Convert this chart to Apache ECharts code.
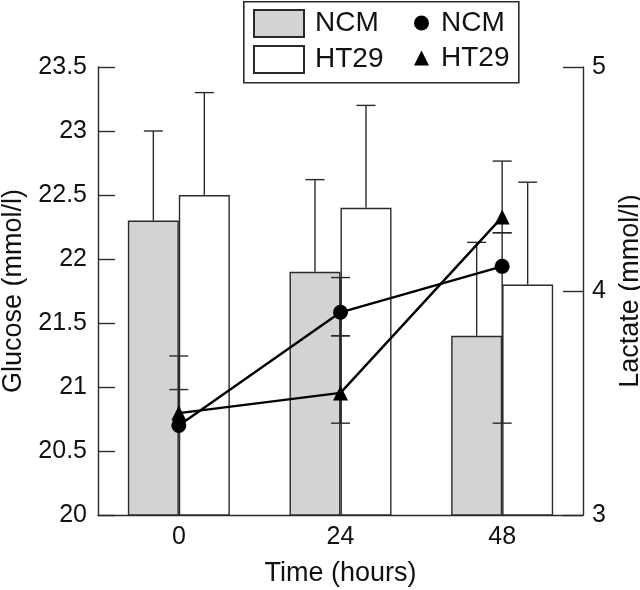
<!DOCTYPE html>
<html>
<head>
<meta charset="utf-8">
<script src="https://cdn.jsdelivr.net/npm/echarts@6/dist/echarts.min.js"></script>
<style>
html,body{margin:0;padding:0;background:#fff;}
#chart{width:640px;height:590px;}
</style>
</head>
<body>
<div id="chart"></div>
<script>
// ---- data ----
const categories = ['0', '24', '48'];
const glucoseNCM = [22.3, 21.9, 21.4];
const glucoseNCMErr = [23.0, 22.62, 22.13];     // top of error bar
const glucoseHT29 = [22.5, 22.4, 21.8];
const glucoseHT29Err = [23.3, 23.2, 22.6];
const lactateNCM = [3.40, 3.905, 4.11];
const lactateNCMHi = [3.56, 4.06, 4.26];
const lactateNCMLo = [null, 3.80, 3.41];
const lactateHT29 = [3.455, 3.545, 4.33];
const lactateHT29Hi = [3.71, 3.80, 4.58];
const lactateHT29Lo = [null, 3.41, 4.26];
const glucoseTicks = {min: 20, max: 23.5, interval: 0.5};
const lactateTicks = {min: 3, max: 5, interval: 1};

const FONT = 'Liberation Sans';
const INK = '#111';
const LINE = '#2a2a2a';
const BAR_W = 51;

const chart = echarts.init(document.getElementById('chart'), null, {renderer: 'canvas'});

function barErrData(vals, tops, side) {
  return vals.map((v, i) => [i, v, tops[i], side]);
}
function lacErrData(vals, hi, lo) {
  return vals.map((v, i) => [i, v, lo[i] == null ? v : lo[i], hi[i] == null ? v : hi[i], lo[i] == null ? 0 : 1, hi[i] == null ? 0 : 1]);
}

function renderBarErr(params, api) {
  const c = api.value(0);
  const base = api.coord([c, api.value(1)]);
  const top = api.coord([c, api.value(2)]);
  const x = base[0] + api.value(3) * BAR_W / 2;
  const half = 9.5;
  return {
    type: 'group',
    children: [
      {type: 'line', shape: {x1: x, y1: base[1], x2: x, y2: top[1]}, style: {stroke: LINE, lineWidth: 1.4}},
      {type: 'line', shape: {x1: x - half, y1: top[1], x2: x + half, y2: top[1]}, style: {stroke: LINE, lineWidth: 1.4}}
    ]
  };
}
function renderLacErr(params, api) {
  const c = api.value(0);
  const lo = api.coord([c, api.value(2)]);
  const hi = api.coord([c, api.value(3)]);
  const x = lo[0];
  const half = 9.5;
  const ch = [{type: 'line', shape: {x1: x, y1: lo[1], x2: x, y2: hi[1]}, style: {stroke: LINE, lineWidth: 1.4}}];
  if (api.value(4)) ch.push({type: 'line', shape: {x1: x - half, y1: lo[1], x2: x + half, y2: lo[1]}, style: {stroke: LINE, lineWidth: 1.4}});
  if (api.value(5)) ch.push({type: 'line', shape: {x1: x - half, y1: hi[1], x2: x + half, y2: hi[1]}, style: {stroke: LINE, lineWidth: 1.4}});
  return {type: 'group', children: ch};
}

const option = {
  animation: false,
  backgroundColor: '#fff',
  textStyle: {fontFamily: FONT, color: INK},
  grid: {left: 98, right: 57, top: 67, bottom: 75, containLabel: false, outerBoundsMode: 'none'},
  graphic: [{
    type: 'rect', left: 243, top: 1, z: 10,
    shape: {width: 275, height: 81},
    style: {fill: 'rgba(0,0,0,0)', stroke: LINE, lineWidth: 1.6}
  }],
  legend: [{
    left: 253, top: 9, orient: 'vertical', padding: 0,
    itemWidth: 50, itemHeight: 27, itemGap: 7,
    selectedMode: false,
    textStyle: {fontFamily: FONT, fontSize: 28, color: INK, lineHeight: 27, padding: [0, 0, 0, 6]},
    data: [{name: 'NCM', icon: 'rect'}, {name: 'HT29', icon: 'rect'}]
  }, {
    left: 414, top: 9, orient: 'vertical', padding: 0,
    itemWidth: 15, itemHeight: 15, itemGap: 7,
    selectedMode: false,
    formatter: n => n.trim(),
    textStyle: {fontFamily: FONT, fontSize: 28, color: INK, lineHeight: 27, padding: [0, 0, 0, 7]},
    data: [{name: 'NCM ', icon: 'circle'}, {name: 'HT29 ', icon: 'triangle'}]
  }],
  xAxis: {
    type: 'category', data: categories,
    boundaryGap: true,
    name: 'Time (hours)', nameLocation: 'middle', nameGap: 45,
    nameTextStyle: {fontFamily: FONT, fontSize: 27, color: INK},
    axisLine: {lineStyle: {color: LINE, width: 1.4}},
    axisTick: {inside: true, length: 21, lineStyle: {color: LINE, width: 1.4}},
    axisLabel: {fontFamily: FONT, fontSize: 25, color: INK, margin: 10},
    splitLine: {show: false}
  },
  yAxis: [{
    type: 'value', min: glucoseTicks.min, max: glucoseTicks.max, interval: glucoseTicks.interval,
    name: 'Glucose (mmol/l)', nameLocation: 'middle', nameGap: 56, nameRotate: 90,
    nameTextStyle: {fontFamily: FONT, fontSize: 27, color: INK},
    axisLine: {show: true, lineStyle: {color: LINE, width: 1.4}},
    axisTick: {show: true, inside: true, length: 17, lineStyle: {color: LINE, width: 1.4}},
    axisLabel: {fontFamily: FONT, fontSize: 25, color: INK, margin: 11},
    splitLine: {show: false}
  }, {
    type: 'value', position: 'right', min: lactateTicks.min, max: lactateTicks.max, interval: lactateTicks.interval,
    name: 'Lactate (mmol/l)', nameLocation: 'middle', nameGap: 24, nameRotate: 90,
    nameTextStyle: {fontFamily: FONT, fontSize: 27, color: INK},
    axisLine: {show: true, lineStyle: {color: LINE, width: 1.4}},
    axisTick: {show: true, inside: true, length: 20, lineStyle: {color: LINE, width: 1.4}},
    axisLabel: {fontFamily: FONT, fontSize: 25, color: INK, margin: 9},
    splitLine: {show: false}
  }],
  series: [{
    name: 'NCM', type: 'bar', data: glucoseNCM, barWidth: BAR_W, barGap: '0%',
    itemStyle: {color: '#d3d3d3', borderColor: LINE, borderWidth: 1.4}, z: 2
  }, {
    name: 'HT29', type: 'bar', data: glucoseHT29, barWidth: BAR_W, barGap: '0%',
    itemStyle: {color: '#ffffff', borderColor: LINE, borderWidth: 1.4}, z: 2
  }, {
    type: 'custom', name: 'glucoseErr', renderItem: renderBarErr, z: 3,
    data: barErrData(glucoseNCM, glucoseNCMErr, -1).concat(barErrData(glucoseHT29, glucoseHT29Err, 1)),
    encode: {x: 0, y: [1, 2]}, silent: true
  }, {
    type: 'custom', name: 'lactateErr', yAxisIndex: 1, renderItem: renderLacErr, z: 4,
    data: lacErrData(lactateNCM, lactateNCMHi, lactateNCMLo).concat(lacErrData(lactateHT29, lactateHT29Hi, lactateHT29Lo)),
    encode: {x: 0, y: [1, 2, 3]}, silent: true
  }, {
    name: 'NCM ', type: 'line', yAxisIndex: 1, data: lactateNCM,
    symbol: 'circle', symbolSize: 15, z: 5,
    lineStyle: {color: '#000', width: 2.4}, itemStyle: {color: '#000'}
  }, {
    name: 'HT29 ', type: 'line', yAxisIndex: 1, data: lactateHT29,
    symbol: 'triangle', symbolSize: 15, z: 5,
    lineStyle: {color: '#000', width: 2.4}, itemStyle: {color: '#000'}
  }]
};
chart.setOption(option);
</script>
</body>
</html>
